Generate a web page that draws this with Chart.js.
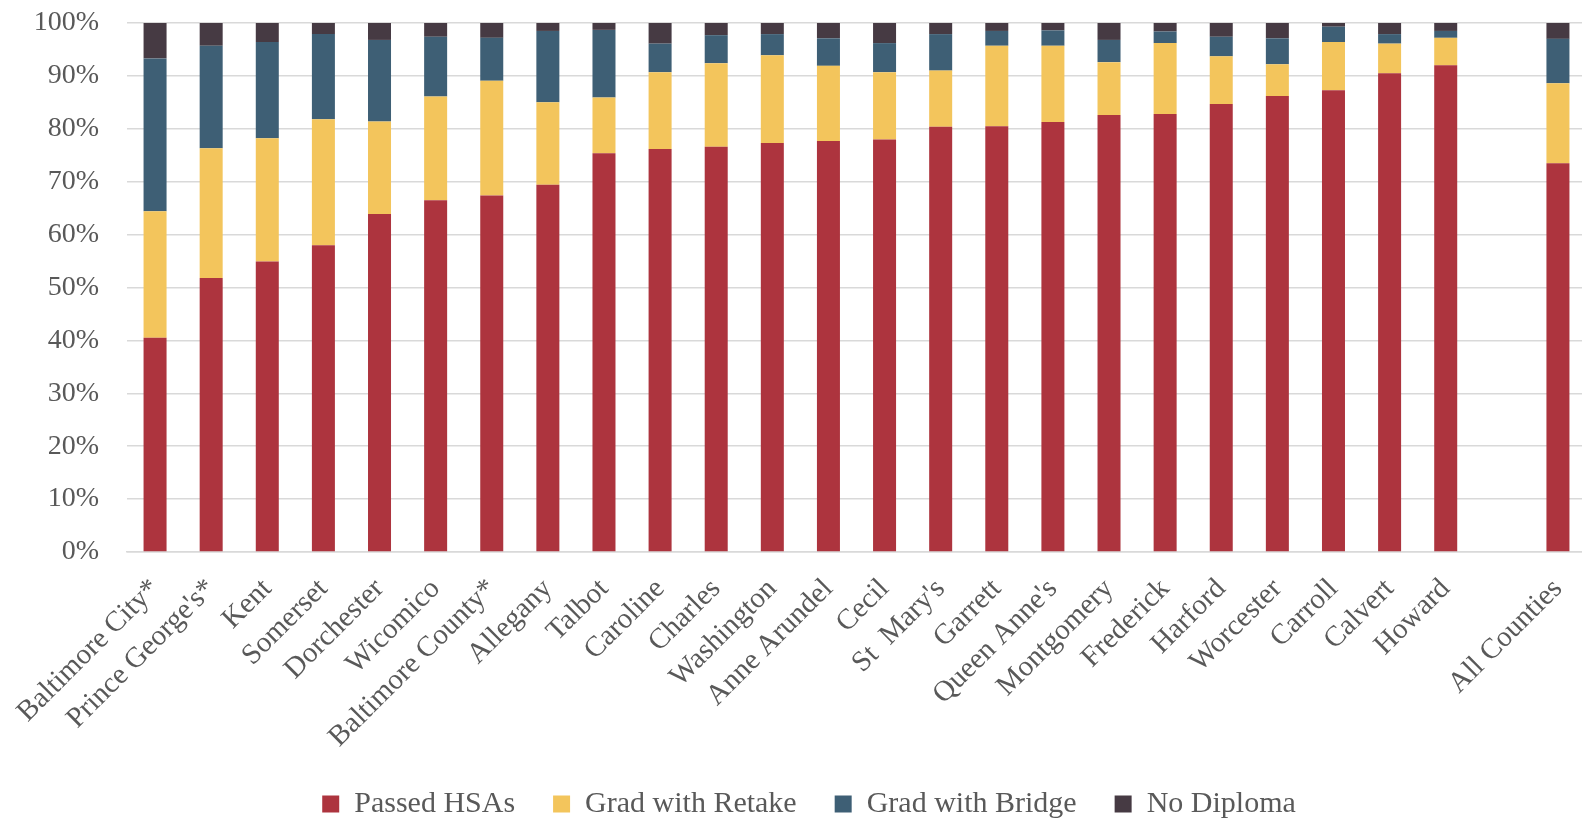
<!DOCTYPE html>
<html>
<head>
<meta charset="utf-8">
<script src="https://cdn.jsdelivr.net/npm/chart.js@4"></script>
<style>
    html, body { margin: 0; padding: 0; background: #ffffff; overflow: hidden; }
    .chart-wrap { width: 1586px; height: 821px; position: relative; }
</style>
</head>
<body>
<div class="chart-wrap"><canvas id="hsaChart"></canvas></div>
<script>
const counties = [
    'Baltimore City*', "Prince George's*", 'Kent', 'Somerset', 'Dorchester', 'Wicomico',
    'Baltimore County*', 'Allegany', 'Talbot', 'Caroline', 'Charles', 'Washington',
    'Anne Arundel', 'Cecil', "St  Mary's", 'Garrett', "Queen Anne's", 'Montgomery',
    'Frederick', 'Harford', 'Worcester', 'Carroll', 'Calvert', 'Howard', '', 'All Counties'
];

const passedHSAs = [40.5, 51.8, 54.9, 58.0, 63.9, 66.5, 67.4, 69.4, 75.4, 76.2, 76.6, 77.3, 77.7, 78.0, 80.4, 80.5, 81.3, 82.6, 82.8, 84.7, 86.2, 87.3, 90.5, 92.0, null, 73.5];
const gradRetake = [23.9, 24.5, 23.3, 23.8, 17.5, 19.6, 21.7, 15.6, 10.5, 14.5, 15.8, 16.6, 14.2, 12.7, 10.6, 15.2, 14.4, 10.0, 13.4, 9.0, 6.0, 9.1, 5.6, 5.2, null, 15.1];
const gradBridge = [28.9, 19.4, 18.2, 16.1, 15.4, 11.3, 8.1, 13.5, 12.8, 5.4, 5.3, 4.0, 5.2, 5.5, 6.9, 2.8, 2.9, 4.2, 2.2, 3.7, 4.9, 2.9, 1.8, 1.3, null, 8.4];
const noDiploma = [6.7, 4.3, 3.6, 2.1, 3.2, 2.7, 2.8, 1.5, 1.3, 3.9, 2.3, 2.1, 2.9, 3.8, 2.1, 1.5, 1.4, 3.2, 1.6, 2.6, 2.9, 0.7, 2.1, 1.5, null, 3.0];

const yTicks = [0, 10, 20, 30, 40, 50, 60, 70, 80, 90, 100];

const textColor = '#595959';
const gridColor = '#d9d9d9';
const serif = "'Liberation Serif', 'Times New Roman', serif";

function makeDataset(label, data, color) {
    return {
        label: label,
        data: data,
        backgroundColor: color,
        borderWidth: 0,
        barPercentage: 0.41,
        categoryPercentage: 1.0
    };
}

// legend sits a little right of centre in the original
const legendNudge = {
    id: 'legendNudge',
    afterLayout(chart) {
        if (chart.legend) {
            chart.legend.left += 16;
            chart.legend.right += 16;
        }
    }
};

function initializeChart() {
    const ctx = document.getElementById('hsaChart').getContext('2d');
    new Chart(ctx, {
        type: 'bar',
        data: {
            labels: counties,
            datasets: [
                makeDataset('Passed HSAs', passedHSAs, '#ad343e'),
                makeDataset('Grad with Retake', gradRetake, '#f3c55c'),
                makeDataset('Grad with Bridge', gradBridge, '#3e5f75'),
                makeDataset('No Diploma', noDiploma, '#463a43')
            ]
        },
        options: {
            responsive: true,
            maintainAspectRatio: false,
            animation: false,
            layout: {
                padding: { top: 23, left: 0, right: 0, bottom: -8 }
            },
            scales: {
                x: {
                    stacked: true,
                    grid: { display: false, drawTicks: false },
                    border: { color: gridColor, width: 1.5 },
                    ticks: {
                        color: textColor,
                        font: { family: serif, size: 29 },
                        maxRotation: 45,
                        minRotation: 45,
                        autoSkip: false,
                        padding: 20
                    },
                    afterFit: (scale) => {
                        scale.height = 199;
                        scale.paddingLeft = 0;
                        scale.paddingRight = 0;
                    }
                },
                y: {
                    stacked: true,
                    min: 0,
                    max: 100,
                    afterBuildTicks: (scale) => {
                        scale.ticks = yTicks.map(v => ({ value: v }));
                    },
                    grid: { color: gridColor, lineWidth: 1.5, drawTicks: false },
                    border: { display: false },
                    ticks: {
                        color: textColor,
                        font: { family: serif, size: 28 },
                        padding: 28,
                        callback: (v) => v + '%'
                    },
                    afterFit: (scale) => {
                        scale.width = 127;
                        scale.paddingTop = 0;
                        scale.paddingBottom = 0;
                    }
                }
            },
            plugins: {
                legend: {
                    position: 'bottom',
                    labels: {
                        color: textColor,
                        font: { family: serif, size: 30 },
                        boxWidth: 17,
                        boxHeight: 17,
                        padding: 38
                    }
                },
                tooltip: { enabled: false }
            }
        },
        plugins: [legendNudge]
    });
}

document.addEventListener('DOMContentLoaded', initializeChart);
</script>
</body>
</html>
